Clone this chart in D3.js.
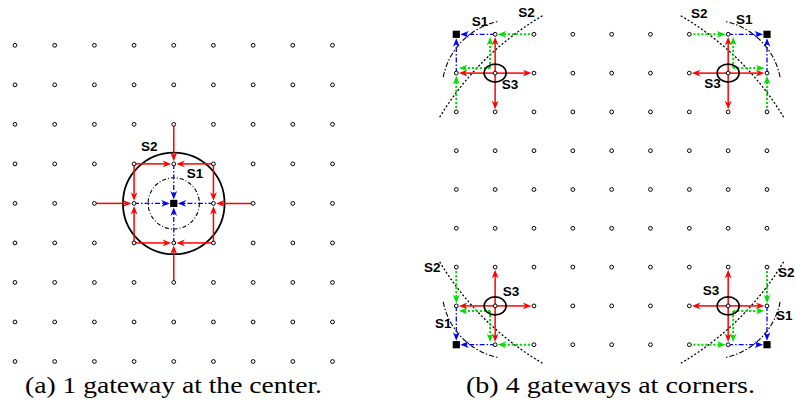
<!DOCTYPE html>
<html>
<head>
<meta charset="UTF-8">
<title>Gateway placement</title>
<style>
  body { margin: 0; background: #fff; }
  .lbl { font: bold 13.5px "Liberation Sans", Arial, sans-serif; fill: #000; }
  .cap { font: 23px "Liberation Serif", "DejaVu Serif", serif; fill: #000; }
</style>
</head>
<body>
<svg width="796" height="400"></svg>
<script src="https://d3js.org/d3.v7.min.js"></script>
<script>
// grid indices (9 x 9 sensor nodes)
const gridIdx = [0, 1, 2, 3, 4, 5, 6, 7, 8];

// panel (a): one gateway at the center
const gatewayA = [4, 4];
const s1LinksA = [[[3, 4], [4, 4]], [[5, 4], [4, 4]], [[4, 3], [4, 4]], [[4, 5], [4, 4]]];
const s2LinksA = [
  [[4, 2], [4, 3]], [[2, 4], [3, 4]], [[6, 4], [5, 4]], [[4, 6], [4, 5]],
  [[3, 3], [4, 3]], [[5, 3], [4, 3]], [[3, 3], [3, 4]], [[5, 3], [5, 4]],
  [[3, 5], [3, 4]], [[5, 5], [5, 4]], [[3, 5], [4, 5]], [[5, 5], [4, 5]]
];
const s1RadiusA = 0.645;
const s2RadiusA = 1.28;

// panel (b): 4 gateways at corners, local frame (col, row, x-dir, y-dir)
const cornersB = [[0, 0, 1, 1], [8, 0, -1, 1], [0, 8, 1, -1], [8, 8, -1, -1]];
const blueLinksB = [[[1, 0], [0, 0]], [[0, 1], [0, 0]]];
const greenLinksB = [[[2, 0], [1, 0]], [[0, 2], [0, 1]]];
const greenShiftLinksB = [[[1, 1], [1, 0]], [[1, 1], [0, 1]]];
const redLinksB = [[[1, 1], [1, 0]], [[1, 1], [0, 1]], [[1, 1], [2, 1]], [[1, 1], [1, 2]]];
const s3NodeB = [1, 1];
const s1ArcB = { c: [1.45, 1.45], r: 1.82, a0: 191, a1: 258 };
const s2ArcB = { c: [6, 6], r: 7.5, a0: 211, a1: 240 };

const svg = d3.select("svg");

const xA = d3.scaleLinear().domain([0, 8]).range([15, 332.5]);
const yA = d3.scaleLinear().domain([0, 8]).range([45.3, 361.5]);
const xB = d3.scaleLinear().domain([0, 8]).range([456.3, 767]);
const yB = d3.scaleLinear().domain([0, 8]).range([34.3, 344.7]);

const gLines = svg.append("g");
const gNodes = svg.append("g");
const gText = svg.append("g");

const RED = "#ff0000", BLUE = "#0000ff", GREEN = "#00e000";

function arrow(x1, y1, x2, y2, color, dash, width, gap) {
  const dx = x2 - x1, dy = y2 - y1, len = Math.hypot(dx, dy);
  const ux = dx / len, uy = dy / len;
  const tx = x2 - ux * gap, ty = y2 - uy * gap;
  const hl = 8.5, hw = 3.4;
  gLines.append("line")
    .attr("x1", x1).attr("y1", y1)
    .attr("x2", tx - ux * hl * 0.7).attr("y2", ty - uy * hl * 0.7)
    .attr("stroke", color).attr("stroke-width", width)
    .attr("stroke-dasharray", dash);
  const bx = tx - ux * hl, by = ty - uy * hl;
  gLines.append("path")
    .attr("d", `M${tx},${ty}L${bx - uy * hw},${by + ux * hw}L${tx - ux * hl * 0.7},${ty - uy * hl * 0.7}L${bx + uy * hw},${by - ux * hw}Z`)
    .attr("fill", color);
}

const DASHDOT = "5,2,1.5,2";
const DOTTED = "2.2,1.8";

// ---------- panel (a) ----------
gLines.append("circle")
  .attr("cx", xA(gatewayA[0])).attr("cy", yA(gatewayA[1]))
  .attr("r", xA(s2RadiusA) - xA(0))
  .attr("fill", "none").attr("stroke", "#000").attr("stroke-width", 1.8);
gLines.append("circle")
  .attr("cx", xA(gatewayA[0])).attr("cy", yA(gatewayA[1]))
  .attr("r", xA(s1RadiusA) - xA(0))
  .attr("fill", "none").attr("stroke", "#000").attr("stroke-width", 1.1)
  .attr("stroke-dasharray", "4,2,1,2");

s2LinksA.forEach(([s, t]) => arrow(xA(s[0]), yA(s[1]), xA(t[0]), yA(t[1]), RED, null, 1.5, 2.6));
s1LinksA.forEach(([s, t]) => arrow(xA(s[0]), yA(s[1]), xA(t[0]), yA(t[1]), BLUE, DASHDOT, 1.3, 4));

gridIdx.forEach(r => gridIdx.forEach(c => {
  if (c === gatewayA[0] && r === gatewayA[1]) return;
  gNodes.append("circle").attr("cx", xA(c)).attr("cy", yA(r)).attr("r", 1.9)
    .attr("fill", "#fff").attr("stroke", "#000").attr("stroke-width", 1);
}));
gNodes.append("rect")
  .attr("x", xA(gatewayA[0]) - 3.6).attr("y", yA(gatewayA[1]) - 3.6)
  .attr("width", 7.2).attr("height", 7.2).attr("fill", "#000");

// ---------- panel (b) ----------
const arcLine = d3.line();
cornersB.forEach(([gc, gr, sx, sy]) => {
  const px = p => xB(gc + sx * p[0]);
  const py = p => yB(gr + sy * p[1]);

  [[s1ArcB, "5,2,1.5,2", 1.1], [s2ArcB, "2,2", 1.3]].forEach(([a, dash, w]) => {
    const pts = d3.range(a.a0, a.a1 + 0.01, 1).map(deg => {
      const t = deg * Math.PI / 180;
      const p = [a.c[0] + a.r * Math.cos(t), a.c[1] + a.r * Math.sin(t)];
      return [px(p), py(p)];
    });
    gLines.append("path").attr("d", arcLine(pts))
      .attr("fill", "none").attr("stroke", "#000").attr("stroke-width", w)
      .attr("stroke-dasharray", dash);
  });

  redLinksB.forEach(([s, t]) => arrow(px(s), py(s), px(t), py(t), RED, null, 1.5, 2.6));
  greenLinksB.forEach(([s, t]) => arrow(px(s), py(s), px(t), py(t), GREEN, DOTTED, 2, 2.6));
  greenShiftLinksB.forEach(([s, t]) => {
    const off = 0.13;
    const s2 = [s[0] - off, s[1] - off];
    const t2 = [t[0] - (t[0] === s[0] ? off : 0), t[1] - (t[1] === s[1] ? off : 0)];
    arrow(px(s2), py(s2), px(t2), py(t2), GREEN, DOTTED, 2, 2.6);
  });
  blueLinksB.forEach(([s, t]) => arrow(px(s), py(s), px(t), py(t), BLUE, DASHDOT, 1.3, 4));

  gLines.append("ellipse")
    .attr("cx", px(s3NodeB)).attr("cy", py(s3NodeB))
    .attr("rx", 11).attr("ry", 9)
    .attr("fill", "none").attr("stroke", "#000").attr("stroke-width", 1.6);

  gNodes.append("rect")
    .attr("x", xB(gc) - 3.6).attr("y", yB(gr) - 3.6)
    .attr("width", 7.2).attr("height", 7.2).attr("fill", "#000");
});

gridIdx.forEach(r => gridIdx.forEach(c => {
  if ((c === 0 || c === 8) && (r === 0 || r === 8)) return;
  gNodes.append("circle").attr("cx", xB(c)).attr("cy", yB(r)).attr("r", 1.9)
    .attr("fill", "#fff").attr("stroke", "#000").attr("stroke-width", 1);
}));

// ---------- labels ----------
const labels = [
  ["S2", 141, 150.7], ["S1", 186.7, 178.3],
  ["S1", 471.7, 26], ["S2", 518.3, 16.7], ["S3", 501.7, 89],
  ["S2", 691, 18.3], ["S1", 736, 24], ["S3", 704.3, 88.3],
  ["S2", 424, 271.7], ["S1", 435, 327.7], ["S3", 502.7, 296],
  ["S3", 702.7, 295], ["S2", 778, 276.7], ["S1", 776, 320]
];
labels.forEach(([t, x, y]) => gText.append("text").attr("class", "lbl").attr("x", x).attr("y", y).text(t));

gText.append("text").attr("class", "cap").attr("x", 25).attr("y", 393)
  .attr("textLength", 297).attr("lengthAdjust", "spacingAndGlyphs")
  .text("(a) 1 gateway at the center.");
gText.append("text").attr("class", "cap").attr("x", 466).attr("y", 393)
  .attr("textLength", 289).attr("lengthAdjust", "spacingAndGlyphs")
  .text("(b) 4 gateways at corners.");
</script>
</body>
</html>
